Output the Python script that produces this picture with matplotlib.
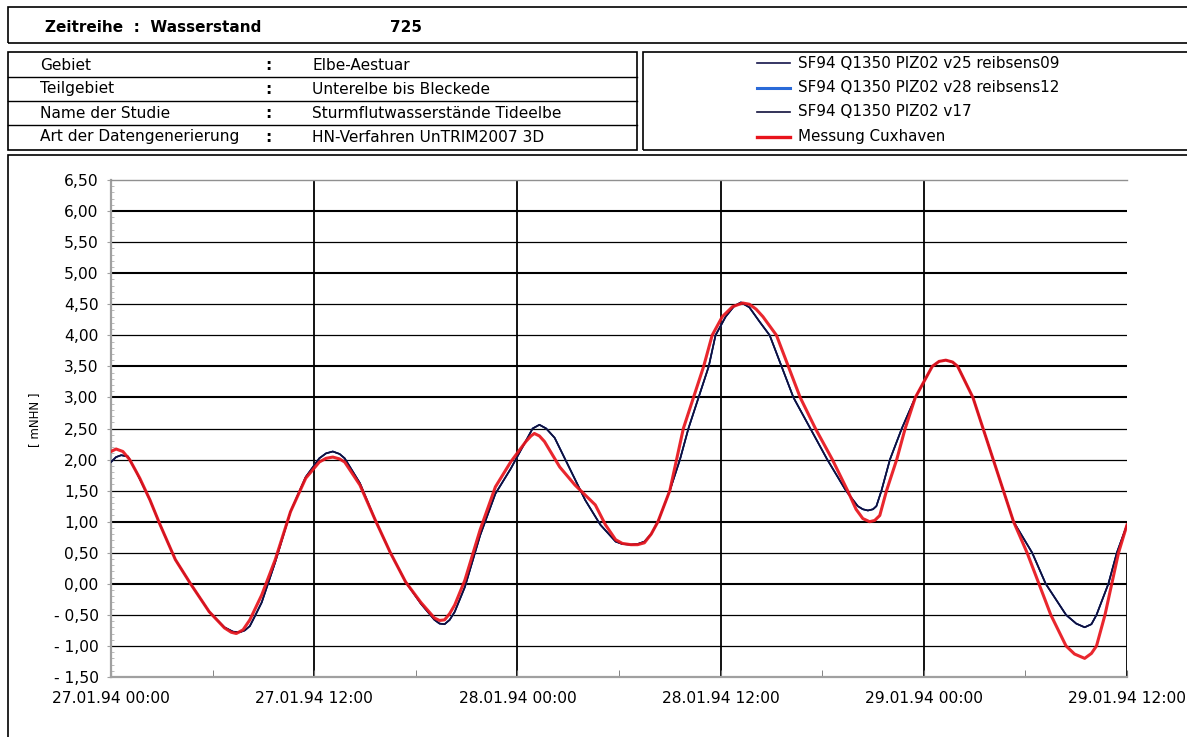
import matplotlib
matplotlib.use('Agg')
import matplotlib.pyplot as plt
from matplotlib.patches import Rectangle
from matplotlib.lines import Line2D
import numpy as np

# time in hours after 27.01.94 00:00
t_mess = [0.0, 0.3, 0.7, 1.1, 1.7, 2.3, 2.9, 3.8, 4.7, 5.8, 6.7, 7.1, 7.4, 7.8, 8.2, 8.9,
          9.7, 10.6, 11.5, 12.3, 12.7, 13.1, 13.5, 13.8, 14.7, 15.6, 16.5, 17.4, 18.3,
          19.1, 19.4, 19.7, 20.0, 20.3, 20.9, 21.8, 22.7, 23.6, 24.5, 24.8, 25.0, 25.3,
          25.6, 26.5, 27.4, 28.0, 28.6, 29.2, 29.8, 30.2, 30.7, 31.1, 31.5, 31.9, 32.3,
          33.0, 33.4, 33.8, 34.4, 35.0, 35.5, 36.1, 36.7, 37.3, 37.7, 38.1, 38.5, 39.3,
          40.0, 40.7, 41.6, 42.6, 43.5, 44.0, 44.4, 44.8, 45.1, 45.4, 45.6, 45.8, 46.4,
          46.9, 47.5, 48.5, 48.9, 49.3, 49.7, 50.0, 50.9, 51.5, 52.1, 52.7, 53.3, 54.1,
          54.8, 55.5, 56.4, 56.9, 57.5, 57.9, 58.2, 58.7, 59.1, 59.5, 60.0]
w_mess = [2.13, 2.17, 2.13, 2.00, 1.70, 1.35, 0.95, 0.39, 0.00, -0.45, -0.71, -0.78,
          -0.80, -0.74, -0.58, -0.18, 0.39, 1.16, 1.70, 1.96, 2.02, 2.04, 2.01, 1.96,
          1.59, 1.03, 0.50, 0.03, -0.30, -0.55, -0.59, -0.58, -0.48, -0.34, 0.06, 0.87,
          1.56, 1.96, 2.29, 2.38, 2.42, 2.38, 2.29, 1.88, 1.59, 1.43, 1.27, 0.95, 0.71,
          0.65, 0.63, 0.63, 0.66, 0.80, 1.00, 1.50, 2.00, 2.50, 3.00, 3.50, 4.00, 4.30,
          4.46, 4.52, 4.50, 4.42, 4.30, 4.00, 3.50, 3.00, 2.50, 2.00, 1.50, 1.20, 1.05,
          1.00, 1.02, 1.10, 1.30, 1.50, 2.00, 2.50, 3.00, 3.50, 3.58, 3.60, 3.57, 3.50,
          3.00, 2.50, 2.00, 1.50, 1.00, 0.50, 0.00, -0.50, -1.00, -1.13, -1.20, -1.12,
          -1.00, -0.50, 0.00, 0.50, 0.95]

t_sim = [0.0, 0.3, 0.6, 1.0, 1.5, 2.3, 2.9, 3.8, 4.7, 5.8, 6.7, 7.2, 7.6, 7.9, 8.2, 8.5,
         8.9, 9.7, 10.6, 11.5, 12.3, 12.7, 13.1, 13.5, 13.8, 14.7, 15.6, 16.5, 17.4, 18.3,
         19.1, 19.4, 19.7, 20.0, 20.3, 20.9, 21.8, 22.7, 23.6, 24.5, 24.9, 25.3, 25.7,
         26.2, 27.1, 28.0, 28.9, 29.8, 30.2, 30.7, 31.1, 31.5, 31.9, 32.3, 33.0, 33.6,
         34.1, 34.7, 35.3, 35.7, 36.3, 36.8, 37.2, 37.7, 38.3, 38.9, 39.6, 40.3, 41.3,
         42.3, 43.4, 44.1, 44.4, 44.7, 45.0, 45.2, 45.5, 46.0, 46.7, 47.5, 48.5, 48.9,
         49.3, 49.7, 50.0, 50.9, 51.5, 52.1, 52.7, 53.3, 54.4, 55.2, 56.4, 57.0, 57.5,
         57.9, 58.2, 58.9, 59.4, 60.0]
w_v17 = [1.96, 2.04, 2.07, 2.05, 1.80, 1.35, 0.95, 0.39, 0.00, -0.45, -0.70, -0.77,
         -0.78, -0.75, -0.68, -0.52, -0.30, 0.35, 1.16, 1.72, 2.02, 2.10, 2.13, 2.09,
         2.02, 1.62, 1.03, 0.50, 0.03, -0.32, -0.58, -0.64, -0.65, -0.58, -0.45, -0.05,
         0.78, 1.45, 1.85, 2.30, 2.50, 2.56, 2.50, 2.35, 1.85, 1.35, 0.95, 0.68, 0.64,
         0.63, 0.64, 0.68, 0.80, 1.00, 1.50, 2.00, 2.50, 3.00, 3.50, 4.00, 4.30, 4.47,
         4.53, 4.45, 4.22, 4.00, 3.50, 3.00, 2.50, 2.00, 1.50, 1.25, 1.20, 1.18, 1.20,
         1.25, 1.50, 2.00, 2.50, 3.00, 3.50, 3.58, 3.60, 3.57, 3.50, 3.00, 2.50, 2.00,
         1.50, 1.00, 0.50, 0.00, -0.50, -0.64, -0.70, -0.65, -0.50, 0.00, 0.50, 0.95]
# the two friction runs lie under v17 / the measurement in the picture
w_v25 = list(w_v17)
w_v28 = list(w_v17)

labels = ['SF94 Q1350 PIZ02 v25 reibsens09', 'SF94 Q1350 PIZ02 v28 reibsens12',
          'SF94 Q1350 PIZ02 v17', 'Messung Cuxhaven']
colors = ['#14144a', '#2a6ad8', '#10103c', '#e8141c']

x_ticks = [0, 12, 24, 36, 48, 60]
x_labels = ['27.01.94 00:00', '27.01.94 12:00', '28.01.94 00:00', '28.01.94 12:00',
            '29.01.94 00:00', '29.01.94 12:00']

info_keys = ['Gebiet', 'Teilgebiet', 'Name der Studie', 'Art der Datengenerierung']
info_vals = ['Elbe-Aestuar', 'Unterelbe bis Bleckede', 'Sturmflutwasserstände Tideelbe',
             'HN-Verfahren UnTRIM2007 3D']

plt.rcParams['font.family'] = ['DejaVu Sans']

W, H = 1187, 737
def fx(x):
    return x / W
def fy(y):
    return 1 - y / H

fig = plt.figure(figsize=(W / 100, H / 100), dpi=100, facecolor='white')

def box(x0, y0, x1, y1, lw=1.2):
    fig.add_artist(Rectangle((fx(x0), fy(y1)), fx(x1) - fx(x0), fy(y0) - fy(y1),
                             transform=fig.transFigure, fill=False, ec='black', lw=lw))

def hline(x0, x1, y, lw=1.0):
    fig.add_artist(Line2D([fx(x0), fx(x1)], [fy(y), fy(y)], transform=fig.transFigure,
                          color='black', lw=lw))

# header
box(8, 7, 1195, 43)
fig.text(fx(45), fy(27), 'Zeitreihe  :  Wasserstand', fontsize=11, fontweight='bold', va='center')
fig.text(fx(390), fy(27), '725', fontsize=11, fontweight='bold', va='center')

# info table
box(8, 52, 637, 150)
for y in [77, 101, 125]:
    hline(8, 637, y)
row_y = [65, 89, 113, 137]
for k, v, y in zip(info_keys, info_vals, row_y):
    fig.text(fx(40), fy(y), k, fontsize=11.1, va='center')
    fig.text(fx(265), fy(y), ':', fontsize=11.1, va='center', fontweight='bold')
    fig.text(fx(312), fy(y), v, fontsize=11.1, va='center')

# legend box
box(643, 52, 1195, 150)
leg_y = [63, 88, 112, 137]
leg_lw = [1.2, 2.2, 1.2, 2.4]
for lab, c, y, lw in zip(labels, colors, leg_y, leg_lw):
    fig.add_artist(Line2D([fx(757), fx(790)], [fy(y), fy(y)], transform=fig.transFigure,
                          color=c, lw=lw))
    fig.text(fx(798), fy(y), lab, fontsize=10.9, va='center')

# plot frame
box(8, 155, 1195, 760)

ax = fig.add_axes([fx(111), fy(677), (1127 - 111) / W, (677 - 180) / H])
ax.set_xlim(0, 60)
ax.set_ylim(-1.5, 6.5)

y_ticks = np.arange(-1.5, 6.51, 0.5)
bold_levels = [6.0, 5.0, 3.5, 3.0, 1.0, 0.0]
for yv in y_ticks[1:-1]:
    ax.axhline(yv, color='black', lw=1.5 if round(yv, 2) in bold_levels else 0.9, zorder=1)
for xv in x_ticks[1:-1]:
    ax.axvline(xv, color='black', lw=1.3, zorder=1)
ax.axvline(60, ymin=0, ymax=(0.47 + 1.5) / 8, color='black', lw=1.3, zorder=1)

ax.plot(t_sim, w_v28, color=colors[1], lw=1.3, zorder=3, solid_joinstyle='round')
ax.plot(t_sim, w_v25, color=colors[0], lw=1.1, zorder=3, solid_joinstyle='round')
ax.plot(t_sim, w_v17, color=colors[2], lw=1.1, zorder=4, solid_joinstyle='round')
ax.plot(t_mess, w_mess, color=colors[3], lw=2.2, alpha=0.92, zorder=5, solid_joinstyle='round')

ax.set_xticks(x_ticks)
ax.set_xticklabels(x_labels)
ax.set_xticks(np.arange(6, 60, 12), minor=True)
ax.set_yticks(y_ticks)
ax.set_yticklabels([('- ' if v < 0 else '') + f'{abs(v):.2f}'.replace('.', ',') for v in y_ticks])
ax.set_yticks(np.arange(-1.5, 6.51, 0.1), minor=True)
ax.tick_params(axis='x', which='both', direction='in', length=5, pad=10, labelsize=11.2,
               color='#707070')
ax.tick_params(axis='y', which='major', direction='out', length=3, pad=6, labelsize=11.2,
               color='#a0a0a0')
ax.tick_params(axis='y', which='minor', direction='in', length=2, color='#b0b0b0')
for s in ['left', 'bottom']:
    ax.spines[s].set_color('#a0a0a0')
    ax.spines[s].set_linewidth(1.6)
ax.spines['top'].set_color('#909090')
ax.spines['top'].set_linewidth(1.0)
ax.spines['right'].set_visible(False)

fig.text(fx(35), fy(420), '[ mNHN ]', fontsize=8.5, rotation=90, va='center', ha='center')

fig.savefig('out.png', dpi=100, facecolor='white')
